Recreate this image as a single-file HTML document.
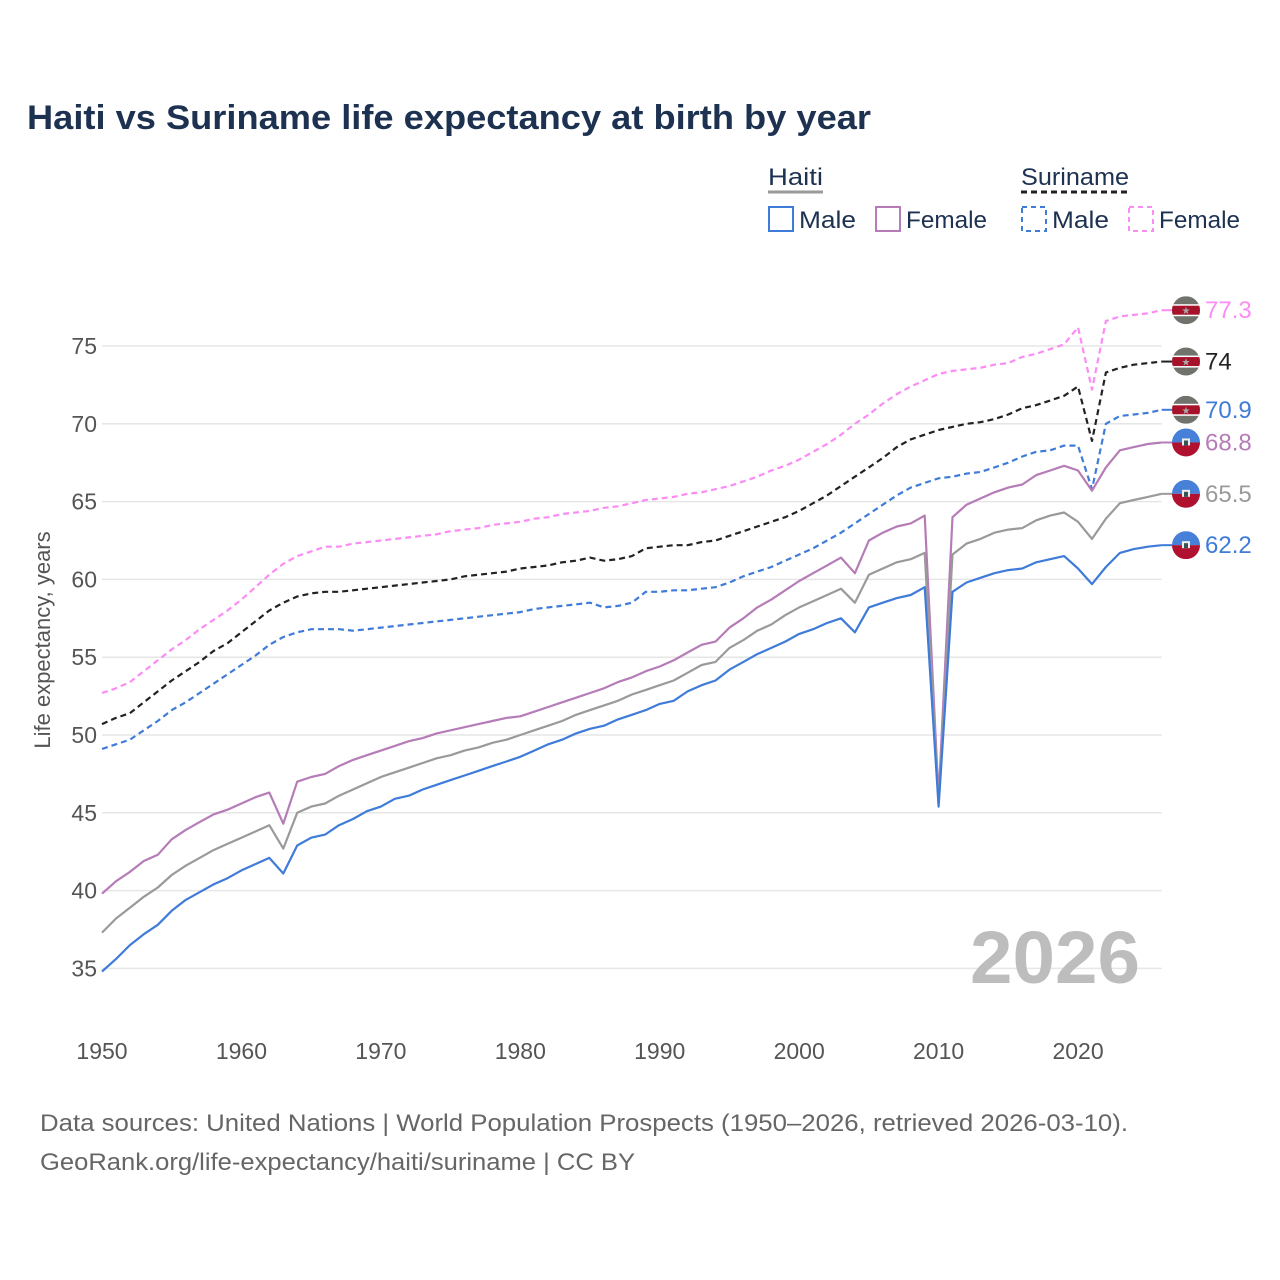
<!DOCTYPE html>
<html><head><meta charset="utf-8"><style>
html,body{margin:0;padding:0;background:#fff;}
svg{display:block;font-family:"Liberation Sans",sans-serif;}
</style></head><body>
<svg id="chart" width="1280" height="1280" viewBox="0 0 1280 1280" xmlns="http://www.w3.org/2000/svg">
<rect width="1280" height="1280" fill="#fff"/>
<text x="27" y="129" font-size="34" font-weight="bold" fill="#1d3150" textLength="844" lengthAdjust="spacingAndGlyphs">Haiti vs Suriname life expectancy at birth by year</text>
<g font-size="24" fill="#1d3150">
<text x="768" y="185" textLength="55" lengthAdjust="spacingAndGlyphs">Haiti</text>
<line x1="768" y1="192" x2="823" y2="192" stroke="#9a9a9a" stroke-width="3"/>
<text x="1021" y="185" textLength="108" lengthAdjust="spacingAndGlyphs">Suriname</text>
<line x1="1021" y1="192" x2="1129" y2="192" stroke="#222" stroke-width="3" stroke-dasharray="6,4"/>
<g><rect x="769" y="207" width="24" height="24" fill="none" stroke="#3f7bd8" stroke-width="2"/><text x="799" y="228" textLength="57" lengthAdjust="spacingAndGlyphs">Male</text></g>
<g><rect x="876" y="207" width="24" height="24" fill="none" stroke="#b57cb7" stroke-width="2"/><text x="906" y="228" textLength="81" lengthAdjust="spacingAndGlyphs">Female</text></g>
<g><rect x="1022" y="207" width="24" height="24" fill="none" stroke="#3f7bd8" stroke-width="2" stroke-dasharray="5,4"/><text x="1052" y="228" textLength="57" lengthAdjust="spacingAndGlyphs">Male</text></g>
<g><rect x="1129" y="207" width="24" height="24" fill="none" stroke="#fb8cf5" stroke-width="2" stroke-dasharray="5,4"/><text x="1159" y="228" textLength="81" lengthAdjust="spacingAndGlyphs">Female</text></g>
</g>
<g id="grid"></g>
<g id="axes"></g>
<g id="series"></g>
<g id="ends"></g>
<text x="1140" y="983" font-size="74" font-weight="bold" fill="#bdbdbd" text-anchor="end" textLength="170" lengthAdjust="spacingAndGlyphs">2026</text>
<text transform="translate(50,640) rotate(-90)" font-size="22" fill="#555" text-anchor="middle">Life expectancy, years</text>
<text x="40" y="1131" font-size="24" fill="#666" textLength="1088" lengthAdjust="spacingAndGlyphs">Data sources: United Nations | World Population Prospects (1950–2026, retrieved 2026-03-10).</text>
<text x="40" y="1170" font-size="24" fill="#666" textLength="595" lengthAdjust="spacingAndGlyphs">GeoRank.org/life-expectancy/haiti/suriname | CC BY</text>
</svg>
<script>
const yTicks=[35,40,45,50,55,60,65,70,75];
const xTicks=[1950,1960,1970,1980,1990,2000,2010,2020];
const startYear=1950;
const haitiMale=[34.8,35.6,36.5,37.2,37.8,38.7,39.4,39.9,40.4,40.8,41.3,41.7,42.1,41.1,42.9,43.4,43.6,44.2,44.6,45.1,45.4,45.9,46.1,46.5,46.8,47.1,47.4,47.7,48.0,48.3,48.6,49.0,49.4,49.7,50.1,50.4,50.6,51.0,51.3,51.6,52.0,52.2,52.8,53.2,53.5,54.2,54.7,55.2,55.6,56.0,56.5,56.8,57.2,57.5,56.6,58.2,58.5,58.8,59.0,59.5,45.4,59.2,59.8,60.1,60.4,60.6,60.7,61.1,61.3,61.5,60.7,59.7,60.8,61.7,61.95,62.1,62.2];
const haitiTotal=[37.3,38.2,38.9,39.6,40.2,41.0,41.6,42.1,42.6,43.0,43.4,43.8,44.2,42.7,45.0,45.4,45.6,46.1,46.5,46.9,47.3,47.6,47.9,48.2,48.5,48.7,49.0,49.2,49.5,49.7,50.0,50.3,50.6,50.9,51.3,51.6,51.9,52.2,52.6,52.9,53.2,53.5,54.0,54.5,54.7,55.6,56.1,56.7,57.1,57.7,58.2,58.6,59.0,59.4,58.5,60.3,60.7,61.1,61.3,61.7,45.6,61.6,62.3,62.6,63.0,63.2,63.3,63.8,64.1,64.3,63.7,62.6,63.9,64.9,65.1,65.3,65.5];
const haitiFemale=[39.8,40.6,41.2,41.9,42.3,43.3,43.9,44.4,44.9,45.2,45.6,46.0,46.3,44.3,47.0,47.3,47.5,48.0,48.4,48.7,49.0,49.3,49.6,49.8,50.1,50.3,50.5,50.7,50.9,51.1,51.2,51.5,51.8,52.1,52.4,52.7,53.0,53.4,53.7,54.1,54.4,54.8,55.3,55.8,56.0,56.9,57.5,58.2,58.7,59.3,59.9,60.4,60.9,61.4,60.4,62.5,63.0,63.4,63.6,64.1,46.0,64.0,64.8,65.2,65.6,65.9,66.1,66.7,67.0,67.3,67.0,65.7,67.2,68.3,68.5,68.7,68.8];
const surMale=[49.1,49.4,49.7,50.3,50.9,51.6,52.1,52.7,53.3,53.9,54.5,55.1,55.8,56.3,56.6,56.8,56.8,56.8,56.7,56.8,56.9,57.0,57.1,57.2,57.3,57.4,57.5,57.6,57.7,57.8,57.9,58.1,58.2,58.3,58.4,58.5,58.2,58.3,58.5,59.2,59.2,59.3,59.3,59.4,59.5,59.8,60.2,60.5,60.8,61.2,61.6,62.0,62.5,63.0,63.6,64.2,64.8,65.4,65.9,66.2,66.5,66.6,66.8,66.9,67.2,67.5,67.9,68.2,68.3,68.6,68.6,65.8,70.0,70.5,70.6,70.7,70.9];
const surTotal=[50.7,51.1,51.4,52.1,52.8,53.5,54.1,54.7,55.4,55.9,56.6,57.3,58.0,58.5,58.9,59.1,59.2,59.2,59.3,59.4,59.5,59.6,59.7,59.8,59.9,60.0,60.2,60.3,60.4,60.5,60.7,60.8,60.9,61.1,61.2,61.4,61.2,61.3,61.5,62.0,62.1,62.2,62.2,62.4,62.5,62.8,63.1,63.4,63.7,64.0,64.4,64.9,65.4,66.0,66.6,67.2,67.8,68.5,69.0,69.3,69.6,69.8,70.0,70.1,70.3,70.6,71.0,71.2,71.5,71.8,72.4,68.9,73.3,73.6,73.8,73.9,74.0];
const surFemale=[52.7,53.0,53.4,54.1,54.8,55.5,56.1,56.8,57.4,58.0,58.7,59.5,60.3,61.0,61.5,61.8,62.1,62.1,62.3,62.4,62.5,62.6,62.7,62.8,62.9,63.1,63.2,63.3,63.5,63.6,63.7,63.9,64.0,64.2,64.3,64.4,64.6,64.7,64.9,65.1,65.2,65.3,65.5,65.6,65.8,66.0,66.3,66.6,67.0,67.3,67.7,68.2,68.7,69.3,70.0,70.6,71.3,71.9,72.4,72.8,73.2,73.4,73.5,73.6,73.8,73.9,74.3,74.5,74.8,75.1,76.2,72.2,76.6,76.9,77.0,77.1,77.3];
const endLabels=["62.2","65.5","68.8","70.9","74","77.3"];

const NS="http://www.w3.org/2000/svg";
const X0=102,X1=1161.7,Y75=346,PXU=15.56;
function xs(yr){return X0+(yr-1950)*(X1-X0)/76;}
function ys(v){return Y75+(75-v)*PXU;}
function mk(tag,attrs,parent){const e=document.createElementNS(NS,tag);for(const k in attrs)e.setAttribute(k,attrs[k]);parent.appendChild(e);return e;}
const grid=document.getElementById('grid'),axes=document.getElementById('axes'),ser=document.getElementById('series'),ends=document.getElementById('ends');
yTicks.forEach(t=>{
  const l=mk('line',{x1:X0,x2:X1,y1:ys(t),y2:ys(t),stroke:'#e6e6e6','stroke-width':1.5},grid);
  
  
  const tx=mk('text',{x:97,y:ys(t)+8,'font-size':23,fill:'#555','text-anchor':'end'},axes);
  tx.textContent=t;
  
  
});
xTicks.forEach(t=>{
  const tx=mk('text',{x:xs(t),y:1059,'font-size':23,fill:'#555','text-anchor':'middle'},axes);
  tx.textContent=t;
  
  
});
const defs=[
 {d:surFemale,c:'#fb8cf5',dash:'6,4',n:'suriname-female',lc:'#fb8cf5',flag:'sr',lab:5},
 {d:surTotal,c:'#222',dash:'6,4',n:'suriname-total',lc:'#222',flag:'sr',lab:4},
 {d:surMale,c:'#3f7bd8',dash:'6,4',n:'suriname-male',lc:'#3f7bd8',flag:'sr',lab:3},
 {d:haitiFemale,c:'#b57cb7',dash:null,n:'haiti-female',lc:'#b57cb7',flag:'ht',lab:2},
 {d:haitiTotal,c:'#9a9a9a',dash:null,n:'haiti-total',lc:'#9a9a9a',flag:'ht',lab:1},
 {d:haitiMale,c:'#3f7bd8',dash:null,n:'haiti-male',lc:'#3f7bd8',flag:'ht',lab:0}
];
defs.forEach(s=>{
  const pts=s.d.map((v,i)=>xs(startYear+i).toFixed(1)+','+ys(v).toFixed(1)).join(' ');
  const a={points:pts,fill:'none',stroke:s.c,'stroke-width':2.2,'stroke-linejoin':'round'};
  if(s.dash)a['stroke-dasharray']=s.dash;
  const p=mk('polyline',a,ser);
  
  
  const last=s.d[s.d.length-1],yy=ys(last),cx=1186;
  mk('line',{x1:X1,x2:cx-12,y1:yy,y2:yy,stroke:s.c,'stroke-width':2},ends);
  const g=mk('g',{},ends);
  
  
  const cid='clip-'+s.n;
  const cp=mk('clipPath',{id:cid},g);mk('circle',{cx:cx,cy:yy,r:14},cp);
  const gg=mk('g',{'clip-path':'url(#'+cid+')'},g);
  if(s.flag==='sr'){
    mk('rect',{x:cx-14,y:yy-14,width:28,height:28,fill:'#6f736c'},gg);
    mk('rect',{x:cx-14,y:yy-6,width:28,height:12,fill:'#fff'},gg);
    mk('rect',{x:cx-14,y:yy-4.5,width:28,height:9,fill:'#a5122a'},gg);
    const st=mk('text',{x:cx,y:yy+4,'font-size':10,fill:'#aaa','text-anchor':'middle'},gg);st.textContent='★';
  }else{
    mk('rect',{x:cx-14,y:yy-14,width:28,height:14,fill:'#4780d9'},gg);
    mk('rect',{x:cx-14,y:yy,width:28,height:14,fill:'#b0112e'},gg);
    mk('rect',{x:cx-4,y:yy-4,width:8,height:7,fill:'#eee'},gg);
    mk('rect',{x:cx-2,y:yy-2,width:4,height:5,fill:'#355'},gg);
  }
  const t=mk('text',{x:1205,y:yy+8,'font-size':24,fill:s.lc},ends);
  t.textContent=endLabels[s.lab];
  
  
});
</script>
</body></html>
